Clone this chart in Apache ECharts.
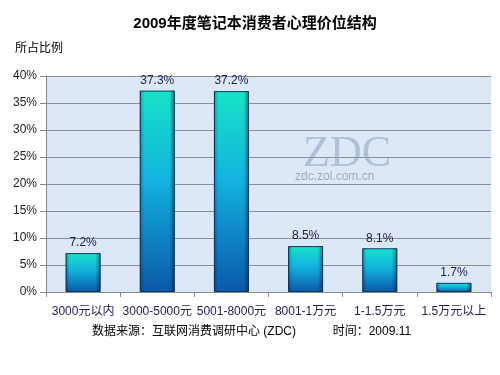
<!DOCTYPE html>
<html><head><meta charset="utf-8">
<script src="https://cdn.jsdelivr.net/npm/echarts@6/dist/echarts.min.js"></script>
<style>html,body{margin:0;padding:0;background:#fff}#c{width:500px;height:375px}</style>
</head><body><div id="c"></div>
<script>
const categories = ['3000元以内','3000-5000元','5001-8000元','8001-1万元','1-1.5万元','1.5万元以上'];
const values = [7.2, 37.3, 37.2, 8.5, 8.1, 1.7];
const yTicks = [0,5,10,15,20,25,30,35,40];

const chart = echarts.init(document.getElementById('c'), null, {renderer:'canvas'});
const font = '"Liberation Sans", Arial, "Noto Sans CJK SC", sans-serif';
chart.setOption({
  animation:false,
  backgroundColor:'#fff',
  title:{text:'2009年度笔记本消费者心理价位结构', left:250, top:11, textAlign:'center',
    textStyle:{fontSize:15, fontWeight:'bold', color:'#000', fontFamily:font}},
  grid:{left:46, right:9, top:76, bottom:83, show:true, backgroundColor:'#dce8f6', borderWidth:0},
  graphic:[
    {type:'text', left:15, top:43, style:{text:'所占比例', font:'12px '+font, fill:'#000'}},
    {type:'text', left:92, top:326, style:{text:'数据来源：互联网消费调研中心 (ZDC)           时间：2009.11', font:'12px '+font, fill:'#000'}},
    {type:'text', left:303, top:132, z:1, style:{text:'ZDC', font:'44px "Liberation Serif", serif', fill:'rgba(140,160,190,0.55)'}},
    {type:'text', left:295, top:171, z:1, style:{text:'zdc.zol.com.cn', font:'12px '+font, fill:'rgba(130,145,170,0.7)'}}
  ],
  xAxis:{type:'category', data:categories,
    axisLine:{lineStyle:{color:'#888'}},
    axisTick:{show:true, length:5, lineStyle:{color:'#888'}},
    axisLabel:{color:'#221a55', fontSize:12, fontFamily:font, margin:14, interval:0}},
  yAxis:{type:'value', min:0, max:40, interval:5,
    axisLine:{show:true, lineStyle:{color:'#888'}},
    axisTick:{show:true, length:6, lineStyle:{color:'#888'}},
    splitLine:{lineStyle:{color:'#8a8f99', width:1}},
    axisLabel:{formatter:v=>v+'%', color:'#222', fontSize:12, fontFamily:font, margin:9}},
  series:[{type:'bar', data:values, barWidth:35, z:3,
    itemStyle:{
      borderColor:'#0b3b66', borderWidth:1,
      color:new echarts.graphic.LinearGradient(0,0,0,1,[
        {offset:0, color:'#17e2c6'},
        {offset:0.45, color:'#12b2de'},
        {offset:1, color:'#0a58a8'}])},
    label:{show:true, position:'top', distance:4, formatter:p=>p.value.toFixed(1)+'%',
      color:'#221a55', fontSize:12, fontFamily:font}
  },{type:'bar', data:values, barWidth:35, barGap:'-100%', z:4, silent:true,
    itemStyle:{color:new echarts.graphic.LinearGradient(0,0,1,0,[
        {offset:0, color:'rgba(0,20,50,0.35)'},
        {offset:0.12, color:'rgba(0,20,50,0)'},
        {offset:0.85, color:'rgba(0,20,50,0)'},
        {offset:1, color:'rgba(0,20,50,0.45)'}])}
  }]
});
</script></body></html>
